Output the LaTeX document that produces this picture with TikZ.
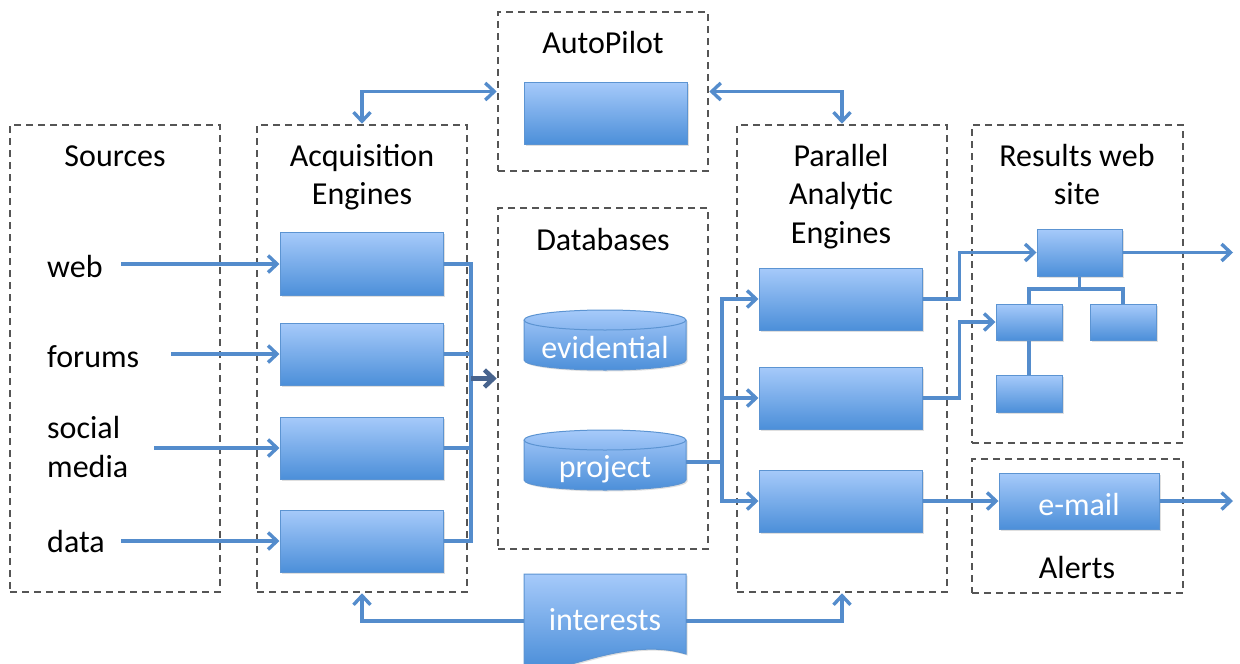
\documentclass[tikz,border=0pt]{standalone}
\usepackage{fontspec}
\setmainfont{Carlito}
\usetikzlibrary{arrows.meta,shadows}
\definecolor{boxtop}{RGB}{166,202,250}
\definecolor{boxbot}{RGB}{76,143,217}
\definecolor{boxedge}{RGB}{92,148,210}
\definecolor{linec}{RGB}{84,140,204}
\definecolor{dashc}{RGB}{85,85,85}
\definecolor{darkarrow}{RGB}{72,100,142}
\begin{document}
\begin{tikzpicture}[x=1pt,y=-1pt,
  group/.style={draw=dashc, line width=2.6pt, dash pattern=on 7pt off 5pt, minimum width=210pt, inner sep=0pt},
  bluebox/.style={draw=boxedge, line width=1pt, top color=boxtop, bottom color=boxbot, inner sep=0pt,
     drop shadow={shadow xshift=1.5pt, shadow yshift=-1.5pt, opacity=0.25}},
  bluefill/.style={draw=boxedge, line width=1pt, top color=boxtop, bottom color=boxbot},
  title/.style={font=\fontsize{32}{38.5}\selectfont, align=center, anchor=base, inner sep=0pt},
  srclbl/.style={font=\fontsize{32}{39}\selectfont, align=left, anchor=base west, inner sep=0pt},
  wtext/.style={font=\fontsize{32}{38}\selectfont, text=white, anchor=base, inner sep=0pt},
  plain/.style={draw=linec, line width=3.4pt},
  conn/.style={draw=linec, line width=3.4pt, -{Straight Barb[length=9pt,width=17pt]}},
  conn2/.style={draw=linec, line width=3.4pt, {Straight Barb[length=9pt,width=17pt]}-{Straight Barb[length=9pt,width=17pt]}},
  darkconn/.style={draw=darkarrow, line width=4.5pt, -{Straight Barb[length=9pt,width=17pt]}}
]
\useasboundingbox (0,0) rectangle (1240,664);

% group boxes
\node[group, minimum height=467pt] (src) at (115,358.5) {};
\node[group, minimum height=467pt] (acq) at (362,358.5) {};
\node[group, minimum height=159pt] (apg) at (603,91.5) {};
\node[group, minimum height=341pt] (db) at (603,378.5) {};
\node[group, minimum height=467pt] (par) at (842,358.5) {};
\node[group, minimum width=211pt, minimum height=318pt] (res) at (1077.5,284) {};
\node[group, minimum width=211pt, minimum height=134pt] (alg) at (1077.5,526) {};

% titles (anchor base = baseline of the last line)
\node[title] (tsrc) at (115,166) {Sources};
\node[title] (tacq) at (362,204.5) {Acquisition\\Engines};
\node[title] (tap) at (603,53) {AutoPilot};
\node[title] (tdb) at (603,250) {Databases};
\node[title] (tpar) at (841,243) {Parallel\\Analytic\\Engines};
\node[title] (tres) at (1077,204.5) {Results web\\site};
\node[title] (tal) at (1077,578) {Alerts};

% source labels
\node[srclbl] (lweb) at (47,277) {web};
\node[srclbl] (lfor) at (47,367) {forums};
\node[srclbl] (lsoc) at (47,477) {social\\media};
\node[srclbl] (ldat) at (47,552) {data};

% blue boxes
\node[bluebox, minimum width=163pt, minimum height=62pt] (ap) at (605.5,113) {};
\node[bluebox, minimum width=163pt, minimum height=63pt] (acq1) at (361.5,264) {};
\node[bluebox, minimum width=163pt, minimum height=62pt] (acq2) at (361.5,354) {};
\node[bluebox, minimum width=163pt, minimum height=62pt] (acq3) at (361.5,448) {};
\node[bluebox, minimum width=163pt, minimum height=62pt] (acq4) at (361.5,541) {};
\node[bluebox, minimum width=163pt, minimum height=62pt] (par1) at (840.5,299) {};
\node[bluebox, minimum width=163pt, minimum height=62pt] (par2) at (840.5,398) {};
\node[bluebox, minimum width=163pt, minimum height=62pt] (par3) at (840.5,501) {};
\node[bluebox, minimum width=85pt, minimum height=47pt] (rtop) at (1079.5,252.5) {};
\node[bluebox, minimum width=66pt, minimum height=36pt] (rl) at (1029,322) {};
\node[bluebox, minimum width=66pt, minimum height=36pt] (rr) at (1123,322) {};
\node[bluebox, minimum width=66pt, minimum height=37pt] (rb) at (1029,393.5) {};
\node[bluebox, minimum width=160pt, minimum height=56pt] (email) at (1079,501) {};
\node[wtext] (temail) at (1079,515) {e-mail};

% cylinders
\path[bluefill, drop shadow={shadow xshift=1.5pt, shadow yshift=-1.5pt, opacity=0.25}]
  (524,320) -- (524,360) arc[start angle=180, end angle=0, x radius=81, y radius=10]
  -- (686,320) arc[start angle=360, end angle=180, x radius=81, y radius=10] -- cycle;
\draw[draw=boxedge, line width=1pt] (524,320) arc[start angle=180, end angle=0, x radius=81, y radius=10];
\node[minimum width=162pt, minimum height=60pt, inner sep=0pt] (ev) at (605,340) {};
\node[wtext] (tev) at (605,358) {evidential};

\path[bluefill, drop shadow={shadow xshift=1.5pt, shadow yshift=-1.5pt, opacity=0.25}]
  (524,440) -- (524,480) arc[start angle=180, end angle=0, x radius=81, y radius=10]
  -- (686,440) arc[start angle=360, end angle=180, x radius=81, y radius=10] -- cycle;
\draw[draw=boxedge, line width=1pt] (524,440) arc[start angle=180, end angle=0, x radius=81, y radius=10];
\node[minimum width=162pt, minimum height=60pt, inner sep=0pt] (pj) at (605,462) {};
\node[wtext] (tpj) at (605,477) {project};

% interests document
\path[bluefill, drop shadow={shadow xshift=1.5pt, shadow yshift=-1.5pt, opacity=0.25}]
  (524,574) -- (686,574) -- (686,654) .. controls (640,640) and (590,660) .. (560,667) -- (524,667) -- cycle;
\node[minimum width=162pt, minimum height=60pt, inner sep=0pt] (int) at (605,621) {};
\node[wtext] (tint) at (605,630) {interests};

% source arrows
\coordinate (s1) at (121,264);
\coordinate (s2) at (171,354);
\coordinate (s3) at (154,448);
\coordinate (s4) at (121,541);
\draw[conn] (s1) -- (acq1.west);
\draw[conn] (s2) -- (acq2.west);
\draw[conn] (s3) -- (acq3.west);
\draw[conn] (s4) -- (acq4.west);

% acquisition bus
\coordinate (bt) at (471,264);
\coordinate (bb) at (471,541);
\coordinate (bm) at (471,378.5);
\draw[plain] (acq1.east) -- (bt) -- (bb) -- (acq4.east);
\draw[plain] (acq2.east) -- (acq2.east -| bt);
\draw[plain] (acq3.east) -- (acq3.east -| bt);
\draw[darkconn] (bm) -- (db.west);

% autopilot links
\draw[conn2] (acq.north) |- (apg.west);
\draw[conn2] (apg.east) -| (par.north);

% interests links
\draw[conn] (int.west) -| (acq.south);
\draw[conn] (int.east) -| (par.south);

% project bus
\coordinate (pb) at (722,462);
\draw[plain] (pj.east) -- (pb);
\draw[conn] (pb) |- (par1.west);
\draw[conn] (pb) |- (par2.west);
\draw[conn] (pb) |- (par3.west);

% outputs
\draw[conn] (par1.east) -- ++(37,0) |- (rtop.west);
\draw[conn] (par2.east) -- ++(37,0) |- (rl.west);
\draw[conn] (par3.east) -- (email.west);
\coordinate (o1) at (1233,252.5);
\coordinate (o2) at (1233,501);
\draw[conn] (rtop.east) -- (o1);
\draw[conn] (email.east) -- (o2);

% tree
\coordinate (tj) at (1079.5,289);
\draw[plain] (rtop.south) -- (tj);
\draw[plain] (tj) -| (rl.north);
\draw[plain] (tj) -| (rr.north);
\draw[plain] (rl.south) -- (rb.north);
\end{tikzpicture}
\end{document}
